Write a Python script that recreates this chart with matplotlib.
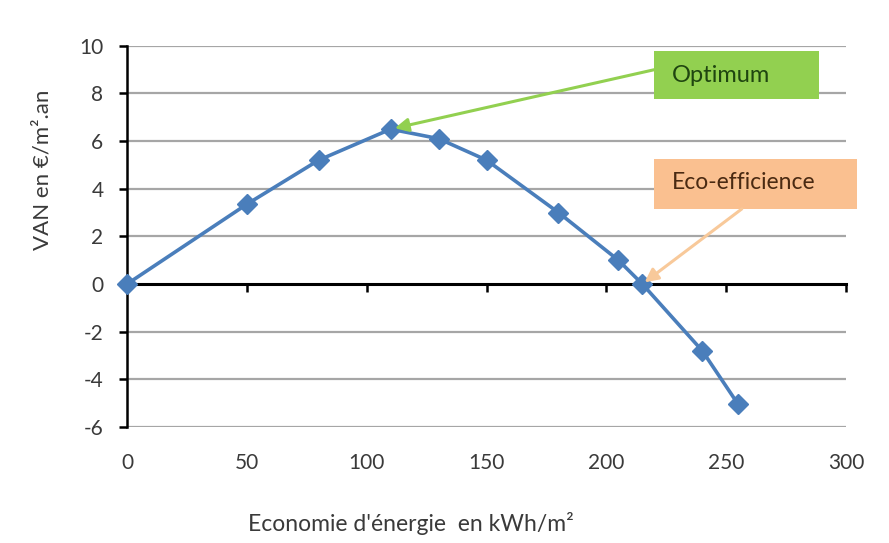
import numpy as np
import matplotlib
matplotlib.use("Agg")
import matplotlib.pyplot as plt
from matplotlib.patches import Rectangle

plt.rcParams['font.family'] = ['Lato', 'DejaVu Sans']

# VAN par rapport a l'economie d'energie
economie_kwh = [0, 50, 80, 110, 130, 150, 180, 205, 215, 240, 255]
van_eur = [0, 3.35, 5.2, 6.5, 6.1, 5.2, 3.0, 1.0, 0, -2.8, -5.05]

x_ticks = [0, 50, 100, 150, 200, 250, 300]
y_ticks = [-6, -4, -2, 0, 2, 4, 6, 8, 10]

optimum_pt = (110, 6.5)
eco_pt = (215, 0)

txt_col = '#3a3a3a'
blue = '#4a7ebb'

fig = plt.figure(figsize=(8.89, 5.43), dpi=100)
ax = fig.add_axes([0.1429, 0.2136, 0.8088, 0.7022])

ax.set_xlim(0, 300)
ax.set_ylim(-6, 10)
ax.set_yticks(y_ticks)
ax.set_yticklabels([str(v) for v in y_ticks])

# grille horizontale (la ligne 0 est l'axe)
for v in y_ticks:
    if v != 0:
        ax.axhline(v, color='#a6a6a6', lw=1.6, zorder=1)

for s in ['top', 'right']:
    ax.spines[s].set_visible(False)
ax.spines['left'].set_color('black')
ax.spines['left'].set_linewidth(1.8)
ax.spines['bottom'].set_position(('data', 0))
ax.spines['bottom'].set_color('black')
ax.spines['bottom'].set_linewidth(2.2)
ax.spines['bottom'].set_zorder(2)

ax.set_xticks(x_ticks)
ax.tick_params(axis='x', direction='out', length=6, width=1.8,
               labelbottom=False)
ax.tick_params(axis='y', direction='out', length=6, width=1.8,
               labelsize=15, labelcolor=txt_col, pad=11)

# etiquettes de l'axe x en bas du graphique
sec = ax.secondary_xaxis(0.0)
sec.set_xticks(x_ticks)
sec.set_xticklabels([str(v) for v in x_ticks])
sec.tick_params(length=0, labelsize=15, labelcolor=txt_col, pad=19)
sec.spines['bottom'].set_visible(False)

ax.plot(economie_kwh, van_eur, color=blue, lw=2.6, marker='D',
        markersize=10, markerfacecolor=blue, markeredgecolor=blue,
        zorder=4, clip_on=False)

ax.set_ylabel("VAN en €/m².an", fontsize=16, color=txt_col)
ax.yaxis.set_label_coords(-0.103, 0.675)
ax.set_xlabel("Economie d'énergie  en kWh/m²", fontsize=16.5, color=txt_col)
ax.xaxis.set_label_coords(0.395, -0.222)

# encadres des annotations
ax.add_patch(Rectangle((0.733, 0.861), 0.2295, 0.126, transform=ax.transAxes,
                       facecolor='#92d050', edgecolor='none', zorder=5,
                       clip_on=False))
ax.text(0.758, 0.922, "Optimum", transform=ax.transAxes, fontsize=17,
        color='#1f4510', va='center', ha='left', zorder=6)
ax.annotate('', xy=optimum_pt, xycoords='data',
            xytext=(0.733, 0.937), textcoords='axes fraction',
            arrowprops=dict(arrowstyle='-|>', color='#92d050', lw=2.2,
                            mutation_scale=20, shrinkA=0, shrinkB=3),
            zorder=5)

ax.add_patch(Rectangle((0.733, 0.572), 0.282, 0.131, transform=ax.transAxes,
                       facecolor='#fac090', edgecolor='none', zorder=5,
                       clip_on=False))
ax.text(0.758, 0.640, "Eco-efficience", transform=ax.transAxes, fontsize=16.5,
        color='#4a2a12', va='center', ha='left', zorder=6)
ax.annotate('', xy=eco_pt, xycoords='data',
            xytext=(0.855, 0.572), textcoords='axes fraction',
            arrowprops=dict(arrowstyle='-|>', color='#f8c99a', lw=2.2,
                            mutation_scale=20, shrinkA=0, shrinkB=2),
            zorder=5)

fig.savefig('out.png', dpi=100, facecolor='white')
